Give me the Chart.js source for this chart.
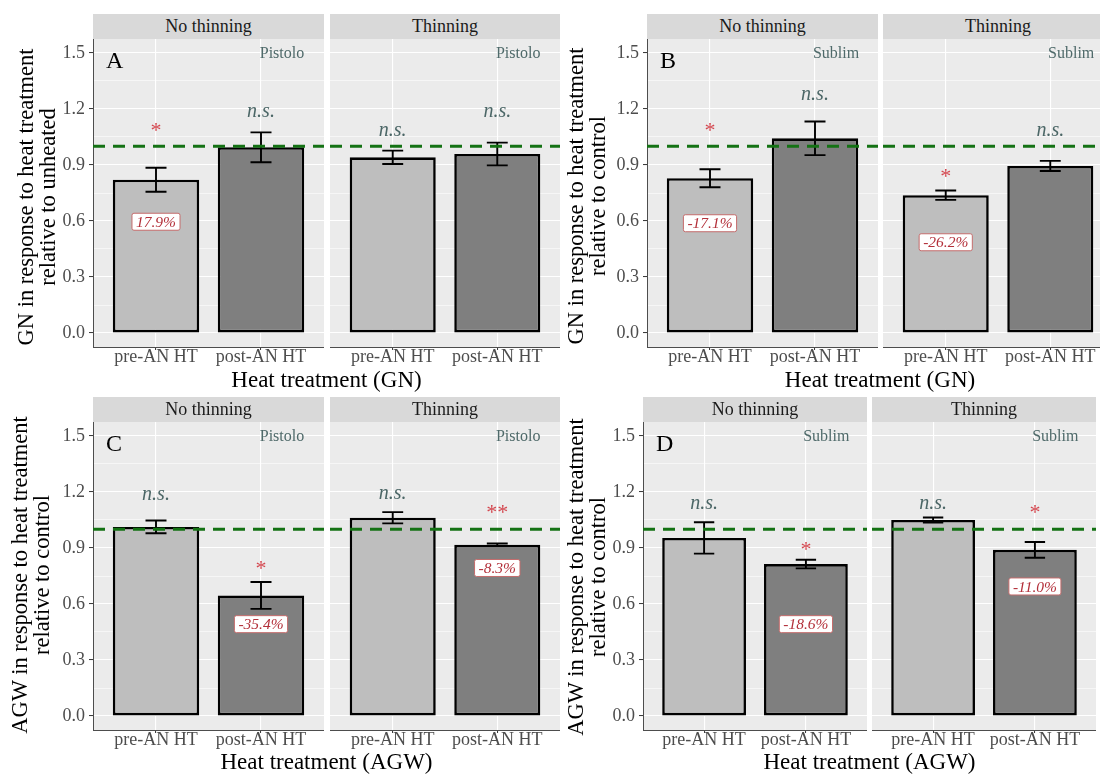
<!DOCTYPE html>
<html>
<head>
<meta charset="utf-8">
<script src="https://cdn.jsdelivr.net/npm/chart.js@4.4.1/dist/chart.umd.min.js"></script>
<style>
  html, body { margin: 0; padding: 0; }
  body {
    width: 1100px; height: 774px; overflow: hidden; position: relative; background: #ffffff;
    font-family: "Liberation Serif", "DejaVu Serif", serif;
  }
  canvas { position: absolute; }
  .strip {
    position: absolute; background: #D9D9D9; color: #1A1A1A;
    font-size: 18px; line-height: 25px; height: 25px; text-align: center; white-space: nowrap; overflow: hidden;
  }
  .ytitle {
    position: absolute; width: 330px; height: 44px; font-size: 22.5px; line-height: 22px;
    text-align: center; color: #000; transform: rotate(-90deg); white-space: nowrap; z-index: 2;
  }
  .xtitle {
    position: absolute; width: 400px; font-size: 23px; line-height: 26px; text-align: center; color: #000; white-space: nowrap;
  }
</style>
</head>
<body>
<script>
// ---- categories, facets and axis ticks ----
const categories = ['pre-AN HT', 'post-AN HT'];
const facetNames = ['No thinning', 'Thinning'];
const yMajorTicks = [0, 0.3, 0.6, 0.9, 1.2, 1.5];
const yMinorTicks = [0.15, 0.45, 0.75, 1.05, 1.35];
const yTickLabels = ['0.0', '0.3', '0.6', '0.9', '1.2', '1.5'];
const referenceLevel = 1;

// ---- values in order: [no thinning pre, no thinning post, thinning pre, thinning post] ----
// A: grain number, Pistolo
const meanA  = [0.821, 0.995, 0.941, 0.959];
const seA    = [0.064, 0.080, 0.036, 0.061];
const sigA   = ['*', 'n.s.', 'n.s.', 'n.s.'];
const sigYA  = [1.114, 1.180, 1.082, 1.180];
const pctA   = ['17.9%', '', '', ''];
const pctYA  = [0.596, 0, 0, 0];

// B: grain number, Sublim
const meanB  = [0.829, 1.043, 0.738, 0.895];
const seB    = [0.048, 0.090, 0.025, 0.027];
const sigB   = ['*', 'n.s.', '*', 'n.s.'];
const sigYB  = [1.114, 1.275, 0.864, 1.082];
const pctB   = ['-17.1%', '', '-26.2%', ''];
const pctYB  = [0.588, 0, 0.486, 0];

// C: average grain weight, Pistolo
const meanC  = [1.013, 0.646, 1.062, 0.917];
const seC    = [0.034, 0.072, 0.030, 0.007];
const sigC   = ['n.s.', '*', 'n.s.', '**'];
const sigYC  = [1.180, 0.815, 1.187, 1.115];
const pctC   = ['', '-35.4%', '', '-8.3%'];
const pctYC  = [0, 0.492, 0, 0.793];

// D: average grain weight, Sublim
const meanD  = [0.954, 0.814, 1.050, 0.890];
const seD    = [0.084, 0.023, 0.013, 0.042];
const sigD   = ['n.s.', '*', 'n.s.', '*'];
const sigYD  = [1.133, 0.918, 1.133, 1.119];
const pctD   = ['', '-18.6%', '', '-11.0%'];
const pctYD  = [0, 0.492, 0, 0.694];

const panels = [
  { letter: 'A', variety: 'Pistolo', xTitle: 'Heat treatment (GN)',
    yTitle: ['GN in response to heat treatment', 'relative to unheated'],
    mean: meanA, se: seA, sig: sigA, sigY: sigYA, pct: pctA, pctY: pctYA },
  { letter: 'B', variety: 'Sublim', xTitle: 'Heat treatment (GN)',
    yTitle: ['GN in response to heat treatment', 'relative to control'],
    mean: meanB, se: seB, sig: sigB, sigY: sigYB, pct: pctB, pctY: pctYB },
  { letter: 'C', variety: 'Pistolo', xTitle: 'Heat treatment (AGW)',
    yTitle: ['AGW in response to heat treatment', 'relative to control'],
    mean: meanC, se: seC, sig: sigC, sigY: sigYC, pct: pctC, pctY: pctYC },
  { letter: 'D', variety: 'Sublim', xTitle: 'Heat treatment (AGW)',
    yTitle: ['AGW in response to heat treatment', 'relative to control'],
    mean: meanD, se: seD, sig: sigD, sigY: sigYD, pct: pctD, pctY: pctYD }
];

// ---- page geometry (pixels) ----
const frames = [
  { facetX: [93, 330],  facetW: [231, 230], plotTop: 39,  plotH: 308, titleX: 37,  titleY: 197, xTitleX: 326.5, xTitleTop: 367 },
  { facetX: [647, 883], facetW: [231, 230], plotTop: 39,  plotH: 308, titleX: 587, titleY: 196, xTitleX: 880,   xTitleTop: 367 },
  { facetX: [93, 330],  facetW: [231, 230], plotTop: 422, plotH: 308, titleX: 31,  titleY: 575, xTitleX: 326.5, xTitleTop: 749 },
  { facetX: [643, 872], facetW: [224, 224], plotTop: 422, plotH: 308, titleX: 587, titleY: 577, xTitleX: 869.5, xTitleTop: 749 }
];

// ---- styles ----
const SERIF = '"Liberation Serif", "DejaVu Serif", serif';
const barFills = ['#BEBEBE', '#7F7F7F'];
const panelBg = '#EBEBEB';
const axisGrey = '#4D4D4D';
const refLineColor = '#147214';
const starColor = '#D4474F';
const nsColor = '#4B6666';
const varietyColor = '#4F6A6A';
const pctTextColor = '#B3303A';
const pctBorderColor = '#C56C6C';

const allYTicks = [...yMajorTicks, ...yMinorTicks].sort((a, b) => a - b);
const isMajor = v => yMajorTicks.some(m => Math.abs(m - v) < 1e-6);

function decorPlugin(panel, facet) {
  const idx = [facet * 2, facet * 2 + 1];
  return {
    id: 'facetDecor',
    beforeDraw(chart) {
      const { ctx, chartArea: a } = chart;
      ctx.save();
      ctx.fillStyle = panelBg;
      ctx.fillRect(a.left, a.top, a.right - a.left, a.bottom - a.top);
      ctx.restore();
    },
    afterDatasetsDraw(chart) {
      const { ctx, chartArea: a, scales: { x, y } } = chart;
      const unit = x.getPixelForValue(2) - x.getPixelForValue(1);
      ctx.save();

      // error bars
      ctx.strokeStyle = '#000';
      ctx.lineWidth = 1.9;
      idx.forEach((k, i) => {
        const cx = x.getPixelForValue(i + 1);
        const top = y.getPixelForValue(panel.mean[k] + panel.se[k]);
        const bot = y.getPixelForValue(panel.mean[k] - panel.se[k]);
        const hw = 0.1 * unit;
        ctx.beginPath();
        ctx.moveTo(cx, top); ctx.lineTo(cx, bot);
        ctx.moveTo(cx - hw, top); ctx.lineTo(cx + hw, top);
        ctx.moveTo(cx - hw, bot); ctx.lineTo(cx + hw, bot);
        ctx.stroke();
      });

      // reference level
      const yr = y.getPixelForValue(referenceLevel);
      ctx.strokeStyle = refLineColor;
      ctx.lineWidth = 3;
      ctx.setLineDash([12, 8]);
      ctx.beginPath();
      ctx.moveTo(a.left, yr); ctx.lineTo(a.right, yr);
      ctx.stroke();
      ctx.setLineDash([]);

      // panel letter and variety name
      ctx.textAlign = 'left';
      ctx.textBaseline = 'alphabetic';
      if (facet === 0) {
        ctx.fillStyle = '#000';
        ctx.font = `24px ${SERIF}`;
        ctx.fillText(panel.letter, a.left + 13, a.top + 29);
      }
      ctx.textAlign = 'center';
      ctx.fillStyle = varietyColor;
      ctx.font = `16px ${SERIF}`;
      ctx.fillText(panel.variety, x.getPixelForValue(2.2), y.getPixelForValue(1.5) + 5.4);

      // significance marks
      idx.forEach((k, i) => {
        const cx = x.getPixelForValue(i + 1);
        const cy = y.getPixelForValue(panel.sigY[k]);
        if (panel.sig[k] === 'n.s.') {
          ctx.fillStyle = nsColor;
          ctx.font = `italic 20px ${SERIF}`;
          ctx.fillText(panel.sig[k], cx, cy + 4.5);
        } else {
          ctx.fillStyle = starColor;
          ctx.font = `22px ${SERIF}`;
          ctx.fillText(panel.sig[k], cx, cy + 11.5);
        }
      });

      // percentage change labels
      idx.forEach((k, i) => {
        if (!panel.pct[k]) return;
        const cx = x.getPixelForValue(i + 1);
        const cy = y.getPixelForValue(panel.pctY[k]);
        ctx.font = `italic 15.5px ${SERIF}`;
        const tw = ctx.measureText(panel.pct[k]).width;
        const bw = tw + 8, bh = 17;
        ctx.beginPath();
        ctx.roundRect(cx - bw / 2, cy - bh / 2, bw, bh, 2);
        ctx.fillStyle = '#FFFFFF';
        ctx.fill();
        ctx.strokeStyle = pctBorderColor;
        ctx.lineWidth = 1;
        ctx.stroke();
        ctx.fillStyle = pctTextColor;
        ctx.fillText(panel.pct[k], cx, cy + 5.2);
      });

      ctx.restore();
    }
  };
}

function makeFacet(panel, frame, facet) {
  const isLeft = facet === 0;
  const axisW = isLeft ? 60 : 0;
  const axisH = 30;
  const w = frame.facetW[facet] + axisW;
  const h = frame.plotH + axisH;
  const cv = document.createElement('canvas');
  cv.width = w; cv.height = h;
  cv.style.left = (frame.facetX[facet] - axisW) + 'px';
  cv.style.top = frame.plotTop + 'px';
  cv.style.width = w + 'px';
  cv.style.height = h + 'px';
  document.body.appendChild(cv);

  const idx = [facet * 2, facet * 2 + 1];
  new Chart(cv, {
    type: 'bar',
    data: {
      datasets: [{
        data: idx.map((k, i) => ({ x: i + 1, y: panel.mean[k] })),
        backgroundColor: barFills,
        borderColor: '#000000',
        borderWidth: 2.6,
        borderSkipped: false,
        barPercentage: 0.823,
        categoryPercentage: 1
      }]
    },
    options: {
      responsive: false,
      animation: false,
      events: [],
      devicePixelRatio: 1,
      layout: { padding: 0 },
      plugins: { legend: { display: false }, tooltip: { enabled: false } },
      scales: {
        x: {
          type: 'linear', min: 0.4, max: 2.6, offset: false,
          afterBuildTicks: s => { s.ticks = categories.map((c, i) => ({ value: i + 1 })); },
          afterFit: s => { s.height = axisH; s.paddingLeft = 0; s.paddingRight = 0; },
          ticks: {
            callback: v => categories[Math.round(v) - 1] || '',
            font: { family: SERIF, size: 18, lineHeight: 1 },
            color: axisGrey, padding: -2, autoSkip: false, maxRotation: 0, minRotation: 0
          },
          grid: { offset: false, color: '#FFFFFF', lineWidth: 1.1, tickColor: '#333333', tickLength: 3, tickWidth: 1 },
          border: { display: true, color: axisGrey, width: 1 }
        },
        y: {
          min: -0.075, max: 1.575,
          afterBuildTicks: s => { s.ticks = allYTicks.map(v => ({ value: v })); },
          afterFit: s => { s.width = axisW; s.paddingTop = 0; s.paddingBottom = 0; },
          ticks: {
            display: isLeft,
            callback: v => {
              const i = yMajorTicks.findIndex(m => Math.abs(m - v) < 1e-6);
              return i >= 0 ? yTickLabels[i] : '';
            },
            font: { family: SERIF, size: 18, lineHeight: 1 },
            color: axisGrey, padding: 4, autoSkip: false
          },
          grid: {
            color: '#FFFFFF',
            lineWidth: c => (c.tick && !isMajor(c.tick.value)) ? 0.55 : 1.1,
            tickColor: c => (isLeft && c.tick && isMajor(c.tick.value)) ? '#333333' : 'rgba(0,0,0,0)',
            tickWidth: 1,
            tickLength: 4,
            drawTicks: isLeft
          },
          border: { display: isLeft, color: axisGrey, width: 1 }
        }
      }
    },
    plugins: [decorPlugin(panel, facet)]
  });
}

function addDiv(cls, text, style) {
  const d = document.createElement('div');
  d.className = cls;
  d.innerHTML = text;
  Object.assign(d.style, style);
  document.body.appendChild(d);
  return d;
}

panels.forEach((panel, p) => {
  const fr = frames[p];
  [0, 1].forEach(f => {
    addDiv('strip', facetNames[f], {
      left: fr.facetX[f] + 'px', top: (fr.plotTop - 25) + 'px', width: fr.facetW[f] + 'px'
    });
    makeFacet(panel, fr, f);
  });
  addDiv('ytitle', panel.yTitle.join('<br>'), {
    left: (fr.titleX - 165) + 'px', top: (fr.titleY - 22) + 'px'
  });
  addDiv('xtitle', panel.xTitle, {
    left: (fr.xTitleX - 200) + 'px', top: fr.xTitleTop + 'px'
  });
});
</script>
</body>
</html>
